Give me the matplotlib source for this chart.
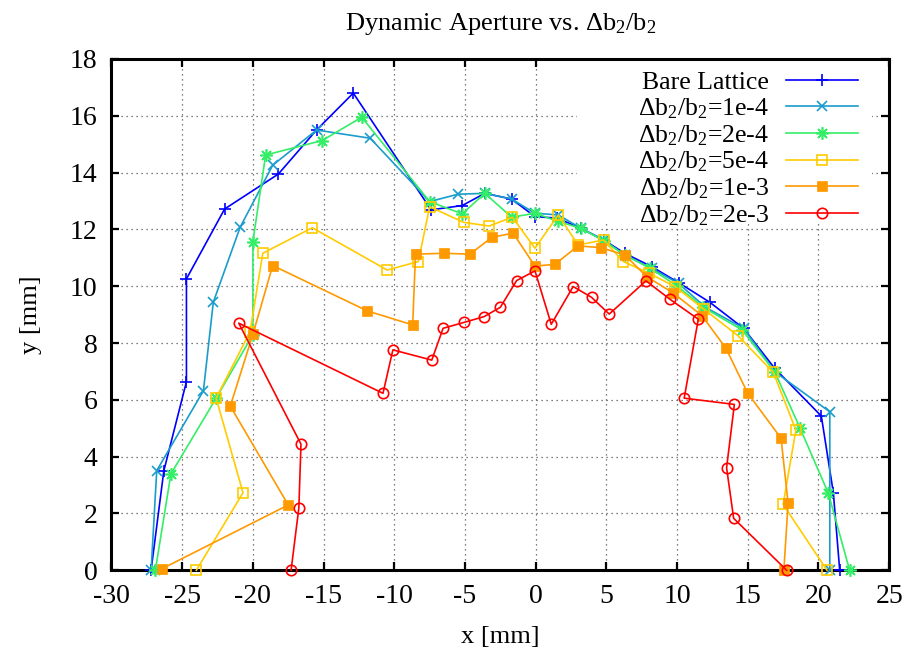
import matplotlib
matplotlib.use("Agg")
import matplotlib.pyplot as plt
from matplotlib.patches import Rectangle

plt.rcParams['font.family'] = ['Liberation Serif', 'DejaVu Serif']
plt.rcParams['mathtext.fontset'] = 'custom'
plt.rcParams['mathtext.rm'] = 'Liberation Serif'
plt.rcParams['mathtext.it'] = 'Liberation Serif:italic'

labels = ["Bare Lattice",
          "Δb$_2$/b$_2$=1e-4",
          "Δb$_2$/b$_2$=2e-4",
          "Δb$_2$/b$_2$=5e-4",
          "Δb$_2$/b$_2$=1e-3",
          "Δb$_2$/b$_2$=2e-3"]

bare_x = [-27.2, -26.3, -24.7, -24.7, -22.0, -18.2, -15.5, -12.9, -7.4, -5.2, -3.6, -1.7, -0.05,
          1.5, 3.2, 4.8, 6.3, 8.2, 10.1, 12.3, 14.7, 16.9, 20.2, 21.05, 21.5]
bare_y = [0, 3.5, 6.64, 10.26, 12.72, 13.95, 15.5, 16.8, 12.69, 12.84, 13.27, 13.07, 12.45,
          12.4, 12.04, 11.63, 11.16, 10.69, 10.13, 9.44, 8.52, 7.11, 5.43, 2.73, 0]

d1e4_x = [-27.2, -26.8, -23.5, -22.8, -20.9, -18.6, -15.5, -11.7, -7.5, -5.5, -3.6, -1.7, -0.05,
          1.6, 3.2, 4.8, 6.3, 8.2, 10.1, 12.0, 14.7, 16.9, 20.8, 20.8]
d1e4_y = [0, 3.51, 6.32, 9.44, 12.08, 14.26, 15.5, 15.21, 12.98, 13.24, 13.27, 13.07, 12.57,
          12.51, 12.04, 11.63, 11.1, 10.63, 10.1, 9.26, 8.52, 6.99, 5.58, 0]

d2e4_x = [-26.9, -25.8, -22.6, -20.0, -20.0, -19.1, -15.1, -12.3, -7.5, -5.2, -3.6, -1.7, -0.05,
          1.6, 3.2, 4.8, 6.3, 8.1, 10.0, 11.85, 14.6, 16.9, 18.7, 20.7, 22.2]
d2e4_y = [0, 3.39, 6.06, 8.3, 11.57, 14.62, 15.13, 15.95, 12.98, 12.55, 13.27, 12.43, 12.57,
          12.28, 12.04, 11.6, 11.1, 10.63, 10.01, 9.26, 8.46, 6.99, 5.0, 2.71, 0]

d5e4_x = [-24.0, -20.7, -22.6, -20.2, -19.3, -15.8, -10.5, -8.3, -7.5, -5.1, -3.3, -1.65, -0.05,
          1.6, 3.0, 4.8, 6.2, 8.0, 9.85, 11.9, 14.3, 16.8, 18.4, 17.5, 20.6]
d5e4_y = [0, 2.73, 6.06, 8.4, 11.16, 12.06, 10.57, 10.87, 12.8, 12.25, 12.12, 12.43, 11.34,
          12.51, 11.45, 11.63, 10.87, 10.46, 9.99, 9.19, 8.26, 6.97, 4.94, 2.32, 0]

d1e3_x = [-26.45, -17.5, -21.6, -20.0, -18.6, -11.9, -8.7, -8.5, -6.5, -4.65, -3.1, -1.6, -0.05,
          1.35, 3.0, 4.6, 6.3, 7.85, 9.7, 11.75, 13.45, 15.0, 17.35, 17.85, 17.55]
d1e3_y = [0.05, 2.3, 5.78, 8.31, 10.73, 9.13, 8.64, 11.13, 11.16, 11.13, 11.72, 11.87, 10.71,
          10.77, 11.42, 11.36, 11.1, 10.34, 9.77, 8.97, 7.82, 6.23, 4.65, 2.36, 0]

d2e3_x = [-17.3, -16.75, -16.6, -21.0, -10.8, -10.1, -7.35, -6.55, -5.05, -3.65, -2.5, -1.35, -0.05,
          1.1, 2.65, 3.95, 5.2, 7.8, 9.5, 11.5, 10.5, 14.05, 13.5, 14.0, 17.75]
d2e3_y = [0, 2.2, 4.44, 8.7, 6.23, 7.76, 7.4, 8.52, 8.73, 8.93, 9.26, 10.2, 10.54,
          8.66, 9.99, 9.61, 9.02, 10.19, 9.54, 8.84, 6.06, 5.84, 3.61, 1.83, 0]

x_ticks = [-30, -25, -20, -15, -10, -5, 0, 5, 10, 15, 20, 25]
y_ticks = [0, 2, 4, 6, 8, 10, 12, 14, 16, 18]

series = [
    (bare_x, bare_y, dict(color='#0000ff', marker='+', ms=9, mew=1.2, mfc='none')),
    (d1e4_x, d1e4_y, dict(color='#1a9ccc', marker='x', ms=7, mew=1.2, mfc='none')),
    (d2e4_x, d2e4_y, dict(color='#33ee66', marker=(8, 2, 0), ms=9, mew=1.2, mfc='none')),
    (d5e4_x, d5e4_y, dict(color='#ffcc00', marker='s', ms=7, mew=1.2, mfc='none')),
    (d1e3_x, d1e3_y, dict(color='#ff9900', marker='s', ms=7.5, mew=0.5)),
    (d2e3_x, d2e3_y, dict(color='#ff0000', marker='o', ms=7.5, mew=1.2, mfc='none')),
]

fig = plt.figure(figsize=(9.04, 6.54), dpi=100)
W, H = 904, 654
L, R, T, B = 111.5, 889.2, 59.0, 570.3
ax = fig.add_axes([L / W, 1 - B / H, (R - L) / W, (B - T) / H])

for (xs, ys, st), lab in zip(series, labels):
    ax.plot(xs, ys, lw=1.2, label=lab, clip_on=False, zorder=3, **st)

ax.set_xlim(-30, 25)
ax.set_ylim(0, 18)
ax.set_xticks(x_ticks)
ax.set_yticks(y_ticks)
ax.set_xticklabels([str(v) for v in x_ticks])
ax.set_yticklabels([str(v) for v in y_ticks])
ax.set_axisbelow(True)
ax.grid(True, color='#555555', linestyle=(0, (1, 3)), linewidth=0.9)
for s in ax.spines.values():
    s.set_linewidth(2.2)
ax.tick_params(direction='in', length=6, width=1.6, top=True, right=True,
               labelsize=20, pad=10)

# white key area hiding the grid
kx0 = (577 - L) / (R - L)
ky0 = (B - 222) / (B - T)
ax.add_patch(Rectangle((kx0, ky0), (872 - 577) / (R - L), 1 - ky0, transform=ax.transAxes,
                       facecolor='white', edgecolor='none', zorder=1))

leg = ax.legend(loc='upper right', bbox_to_anchor=((858 - L) / (R - L), 0.976),
                markerfirst=False, frameon=False, fontsize=18.5, handlelength=2.8,
                handletextpad=0.66, labelspacing=0.08, borderaxespad=0.0, borderpad=0.0)
leg.set_zorder(5)

ax.set_title("Dynamic Aperture vs. Δb$_2$/b$_2$", fontsize=19, pad=21)
ax.set_xlabel("x [mm]", fontsize=19, labelpad=12)
ax.set_ylabel("y [mm]", fontsize=19, labelpad=20)

fig.savefig("out.png", dpi=100)
